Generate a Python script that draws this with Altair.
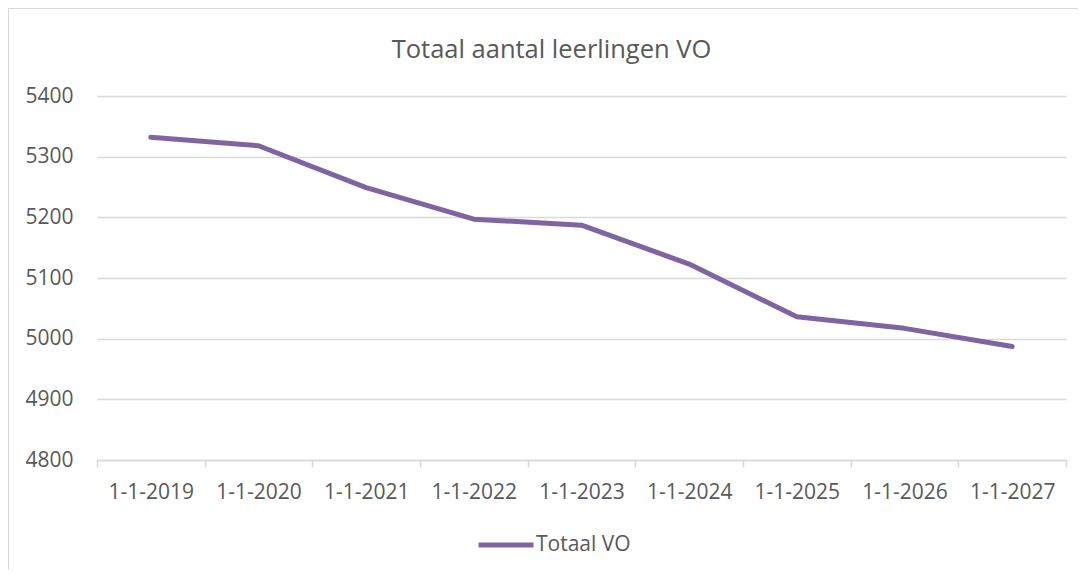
import altair as alt
import pandas as pd

categories = ["1-1-2019", "1-1-2020", "1-1-2021", "1-1-2022", "1-1-2023",
              "1-1-2024", "1-1-2025", "1-1-2026", "1-1-2027"]
values = [5332, 5318, 5249, 5197, 5187, 5123, 5036, 5017, 4987]
series = ["Totaal VO"] * len(categories)
y_ticks = [4800, 4900, 5000, 5100, 5200, 5300, 5400]

df = pd.DataFrame({"datum": categories, "leerlingen": values, "reeks": series})

W, H = 969, 364
FONT = "Open Sans"
TXT = "#595959"
GRID = "#D9D9D9"

base = alt.Chart(df)

frame = base.mark_rect(fill="transparent", stroke=GRID, strokeWidth=1.5).encode(
    x=alt.value(-89), x2=alt.value(W + 100),
    y=alt.value(-88), y2=alt.value(H + 200),
)

line = base.mark_line(strokeWidth=5, strokeCap="round", strokeJoin="round").encode(
    x=alt.X("datum:N", sort=categories, title=None,
            scale=alt.Scale(paddingInner=0, paddingOuter=0),
            axis=alt.Axis(labelAngle=0, labelFont=FONT, labelFontSize=21,
                          labelColor=TXT, domainColor=GRID, domainWidth=1.5,
                          tickColor=GRID, tickWidth=1.5, tickSize=7,
                          tickBand="extent", labelPadding=14, grid=False)),
    y=alt.Y("leerlingen:Q", title=None,
            scale=alt.Scale(domain=[4800, 5400], nice=False, zero=False),
            axis=alt.Axis(values=y_ticks, format="d", labelFont=FONT, labelFontSize=21,
                          labelColor=TXT, domain=False, ticks=False,
                          labelPadding=24, gridColor=GRID, gridWidth=1.5)),
    color=alt.Color("reeks:N", scale=alt.Scale(range=["#8064A2"]),
                    legend=alt.Legend(title=None, orient="none",
                                      legendX=379, legendY=419,
                                      symbolType="stroke", symbolSize=3025,
                                      symbolStrokeWidth=5, labelOffset=0,
                                      labelFont=FONT, labelFontSize=21,
                                      labelColor=TXT)),
)

chart = alt.layer(frame, line).properties(
    width=W, height=H,
    padding={"left": 89, "top": 88, "right": 12, "bottom": 110},
    autosize=alt.AutoSizeParams(type="none"),
    title=alt.TitleParams("Totaal aantal leerlingen VO", font=FONT, fontSize=25.5,
                          fontWeight="normal", color=TXT, anchor="middle",
                          baseline="alphabetic", dx=-30, offset=-76),
).configure_view(stroke=None)

chart.save("out.html", embed_options={"renderer": "svg", "actions": False})
